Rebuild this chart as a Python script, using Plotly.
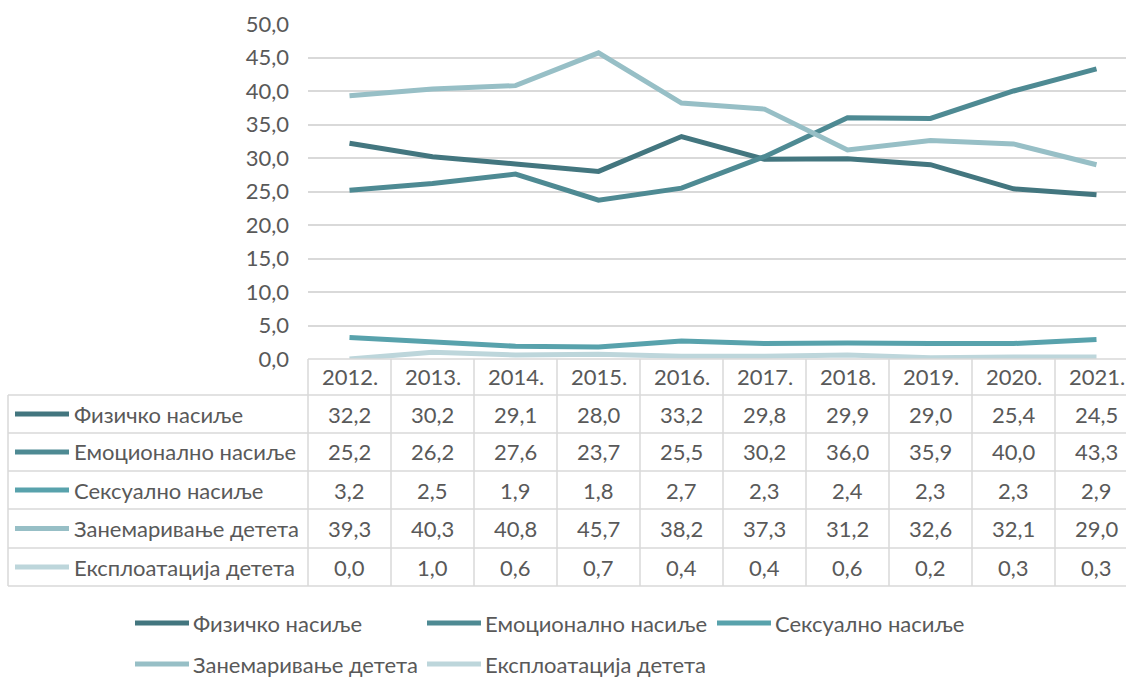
import plotly.graph_objects as go

# ---------------- data ----------------
years = ["2012.", "2013.", "2014.", "2015.", "2016.", "2017.", "2018.", "2019.", "2020.", "2021."]
series_names = ["Физичко насиље", "Емоционално насиље", "Сексуално насиље",
                "Занемаривање детета", "Експлоатација детета"]
fizicko = [32.2, 30.2, 29.1, 28.0, 33.2, 29.8, 29.9, 29.0, 25.4, 24.5]
emocionalno = [25.2, 26.2, 27.6, 23.7, 25.5, 30.2, 36.0, 35.9, 40.0, 43.3]
seksualno = [3.2, 2.5, 1.9, 1.8, 2.7, 2.3, 2.4, 2.3, 2.3, 2.9]
zanemarivanje = [39.3, 40.3, 40.8, 45.7, 38.2, 37.3, 31.2, 32.6, 32.1, 29.0]
eksploatacija = [0.0, 1.0, 0.6, 0.7, 0.4, 0.4, 0.6, 0.2, 0.3, 0.3]
y_ticks = [0, 5, 10, 15, 20, 25, 30, 35, 40, 45, 50]

series_values = [fizicko, emocionalno, seksualno, zanemarivanje, eksploatacija]
colors = ["#43767f", "#4e8a93", "#58a2ac", "#97bfc6", "#bdd6db"]

# ---------------- layout geometry (pixels) ----------------
W, H = 1126, 679
L, R = 308, 0          # plot margins
T, B = 24, 320
PW = W - L - R
PH = H - T - B
COLW = 83.0            # width of one category column
FONT = "Lato"
FS = 22
TXT = "#595959"
GRID = "#d9d9d9"


def px_x(x):
    return (x - L) / PW


def px_y(y):
    return (H - B - y) / PH


idx = list(range(len(years)))

fig = go.Figure()
for name, vals, col in zip(series_names, series_values, colors):
    fig.add_trace(go.Scatter(
        x=idx, y=vals, name=name, mode="lines",
        line=dict(color=col, width=5),
        cliponaxis=False, showlegend=False, hoverinfo="skip",
    ))

shapes = []
annotations = []

# table geometry
row_edges = [359, 395, 433, 471, 509, 548, 586]
table_left = 8
col_edges = [L + COLW * k for k in range(len(years))]

# horizontal lines
shapes.append(dict(type="line", xref="paper", yref="paper",
                   x0=px_x(L), x1=px_x(W + 5), y0=px_y(row_edges[0]), y1=px_y(row_edges[0]),
                   line=dict(color=GRID, width=1.5)))
for ye in row_edges[1:]:
    shapes.append(dict(type="line", xref="paper", yref="paper",
                       x0=px_x(table_left), x1=px_x(W + 5), y0=px_y(ye), y1=px_y(ye),
                       line=dict(color=GRID, width=1.5)))
# vertical lines
for xe in col_edges:
    shapes.append(dict(type="line", xref="paper", yref="paper",
                       x0=px_x(xe), x1=px_x(xe), y0=px_y(row_edges[0]), y1=px_y(row_edges[-1]),
                       line=dict(color=GRID, width=1.5)))
shapes.append(dict(type="line", xref="paper", yref="paper",
                   x0=px_x(table_left), x1=px_x(table_left), y0=px_y(row_edges[1]), y1=px_y(row_edges[-1]),
                   line=dict(color=GRID, width=1.5)))

# header row
hy = (row_edges[0] + row_edges[1]) / 2
for i, yr in zip(idx, years):
    annotations.append(dict(x=i, xref="x", y=px_y(hy), yref="paper", text=yr,
                            showarrow=False, xanchor="center", yanchor="middle",
                            font=dict(family=FONT, size=FS, color=TXT)))

# data rows
for r, (name, vals, col) in enumerate(zip(series_names, series_values, colors)):
    cy = (row_edges[r + 1] + row_edges[r + 2]) / 2
    shapes.append(dict(type="line", xref="paper", yref="paper",
                       x0=px_x(15), x1=px_x(69), y0=px_y(cy), y1=px_y(cy),
                       line=dict(color=col, width=5)))
    annotations.append(dict(x=px_x(72), xref="paper", y=px_y(cy), yref="paper", text=name,
                            showarrow=False, xanchor="left", yanchor="middle",
                            font=dict(family=FONT, size=FS, color=TXT)))
    for i, v in zip(idx, vals):
        annotations.append(dict(x=i, xref="x", y=px_y(cy), yref="paper",
                                text=f"{v:.1f}".replace(".", ","),
                                showarrow=False, xanchor="center", yanchor="middle",
                                font=dict(family=FONT, size=FS, color=TXT)))

# bottom legend
legend_pos = [(134, 623), (426, 623), (716, 623), (134, 664), (426, 664)]
for (lx, ly), name, col in zip(legend_pos, series_names, colors):
    shapes.append(dict(type="line", xref="paper", yref="paper",
                       x0=px_x(lx + 1), x1=px_x(lx + 55), y0=px_y(ly), y1=px_y(ly),
                       line=dict(color=col, width=5)))
    annotations.append(dict(x=px_x(lx + 58), xref="paper", y=px_y(ly), yref="paper", text=name,
                            showarrow=False, xanchor="left", yanchor="middle", borderpad=0,
                            font=dict(family=FONT, size=FS, color=TXT)))

fig.update_layout(
    width=W, height=H,
    margin=dict(l=L, r=R, t=T, b=B),
    paper_bgcolor="white", plot_bgcolor="white",
    separators=",.",
    showlegend=False,
    font=dict(family=FONT, size=FS, color=TXT),
    xaxis=dict(type="linear", range=[-0.5, -0.5 + PW / COLW],
               showticklabels=False, showgrid=False, zeroline=False, showline=False,
               ticks=""),
    yaxis=dict(range=[0, 50], tickvals=y_ticks, tickformat=".1f",
               showgrid=True, gridcolor=GRID, gridwidth=1.5,
               zeroline=False, showline=False, ticks="",
               ticklabelstandoff=18,
               tickfont=dict(family=FONT, size=FS, color=TXT)),
    shapes=shapes,
    annotations=annotations,
)

fig.write_html("out.html", config={"displayModeBar": False},
               post_script="document.body.style.margin='0';")
